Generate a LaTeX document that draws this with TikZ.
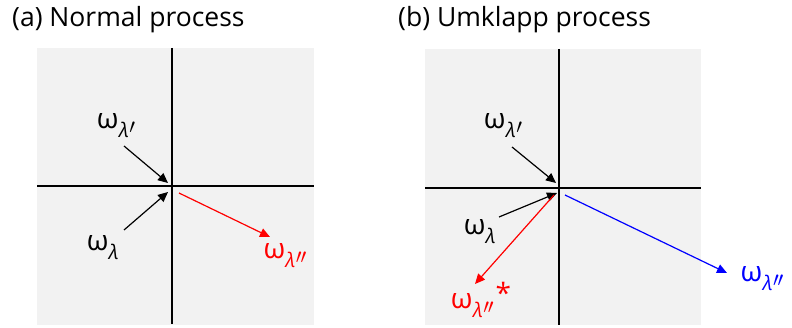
\documentclass[tikz,border=0pt]{standalone}
\usepackage{fontspec}
\setmainfont{Open Sans}
\usetikzlibrary{arrows.meta}
\definecolor{panelgray}{HTML}{F2F2F2}
\definecolor{myred}{HTML}{FF0000}
\definecolor{myblue}{HTML}{0000FF}
\tikzset{
  axis/.style={line width=1.4pt, black},
  vec/.style={line width=1.2pt, -{Triangle[length=10pt,width=9pt]}},
  lbl/.style={inner sep=0pt, font=\fontsize{28}{30}\selectfont},
  ttl/.style={inner sep=0pt, anchor=base west, font=\fontsize{26.5}{28}\selectfont}
}
\newcommand{\pr}{\raisebox{0.2em}{$\prime$}}
\newcommand{\wl}[1]{ω\kern0.5pt\raisebox{-9pt}{\fontsize{20}{20}\selectfont\itshape λ\kern0.5pt#1}}
\begin{document}
\begin{tikzpicture}[x=1pt,y=1pt]
\useasboundingbox (0,0) rectangle (792,327);
% panel (a)
\node[ttl] (ta) at (12,300) {(a) Normal process};
\fill[panelgray] (37,2) rectangle (314,279);
\coordinate (aT) at (172,279); \coordinate (aB) at (172,3);
\coordinate (aL) at (37,141); \coordinate (aR) at (314,141);
\draw[axis] (aT) -- (aB);
\draw[axis] (aL) -- (aR);
\coordinate (a1s) at (124,181); \coordinate (a1e) at (168,144);
\coordinate (a2s) at (124,97); \coordinate (a2e) at (168,135);
\coordinate (a3s) at (179,134); \coordinate (a3e) at (270,90);
\draw[vec] (a1s) -- (a1e);
\draw[vec] (a2s) -- (a2e);
\draw[vec, myred] (a3s) -- (a3e);
\node[lbl] (la1) at (116,201) {\wl{\pr}};
\node[lbl] (la2) at (103,79) {\wl{}};
\node[lbl, text=myred] (la3) at (285,71) {\wl{\pr\kern-1pt\pr}};
% panel (b)
\node[ttl] (tb) at (398,300) {(b) Umklapp process};
\fill[panelgray] (425,2) rectangle (701,278);
\coordinate (bT) at (559,278); \coordinate (bB) at (559,2);
\coordinate (bL) at (425,139); \coordinate (bR) at (701,139);
\draw[axis] (bT) -- (bB);
\draw[axis] (bL) -- (bR);
\coordinate (b1s) at (512,180); \coordinate (b1e) at (556,144);
\coordinate (b2s) at (499,110); \coordinate (b2e) at (557,134);
\coordinate (b3s) at (554,132); \coordinate (b3e) at (475,43);
\coordinate (b4s) at (565,132); \coordinate (b4e) at (727,54);
\draw[vec] (b1s) -- (b1e);
\draw[vec] (b2s) -- (b2e);
\draw[vec, myred] (b3s) -- (b3e);
\draw[vec, myblue] (b4s) -- (b4e);
\node[lbl] (lb1) at (503,201) {\wl{\pr}};
\node[lbl] (lb2) at (480,95) {\wl{}};
\node[lbl, text=myred] (lb3) at (481,27) {\wl{\pr\kern-1pt\pr}\kern2pt\raisebox{0.15em}{*}};
\node[lbl, text=myblue] (lb4) at (762,48) {\wl{\pr\kern-1pt\pr}};
\end{tikzpicture}
\end{document}
